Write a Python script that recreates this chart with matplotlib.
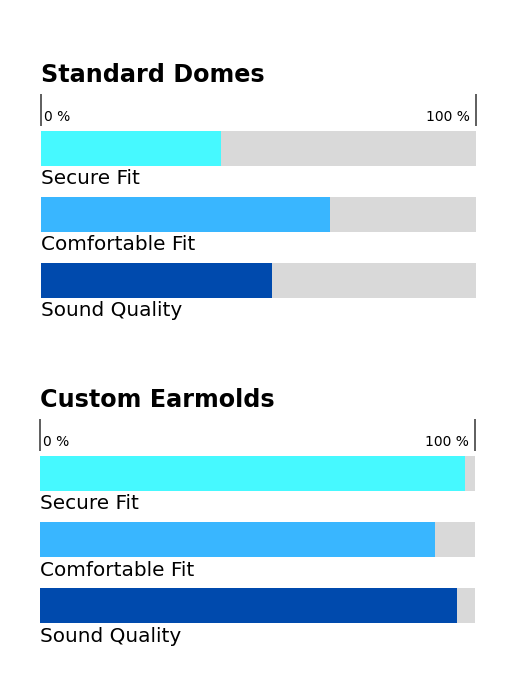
"""
Standard domes vs custom earmolds, progress bar style
"""

import matplotlib
matplotlib.use("Agg")
import matplotlib.pyplot as plt

# Datos
categories = ["Secure Fit", "Comfortable Fit", "Sound Quality"]
domes_values = [41.4, 66.4, 53.1]
earmolds_values = [97.7, 90.8, 95.9]
panel_titles = ["Standard Domes", "Custom Earmolds"]
tick_labels = ["0 %", "100 %"]

bar_colors = ["#46F9FF", "#39B6FF", "#004AAD"]
track_color = "#D9D9D9"

# Geometria en pixeles
W, H = 517, 690
ROW = 66.0   # separacion entre filas
BAR = 35.0   # alto de barra


def draw_panel(fig, x0, bar_top, title, values):
    """Dibuja un panel con titulo, escala y tres barras."""
    half = BAR / 2.0
    y_top = bar_top - 37           # arriba de la linea de escala
    y_bot = bar_top + 2 * ROW + BAR
    ax = fig.add_axes([x0 / W, 1 - y_bot / H, 435.0 / W, (y_bot - y_top) / H])
    ax.set_xlim(0, 100)
    ax.set_ylim(2 + half / ROW, -(37 + half) / ROW)
    ax.axis("off")

    rows = list(range(len(categories)))
    h = BAR / ROW
    ax.barh(rows, [100] * len(rows), height=h, color=track_color, linewidth=0)
    ax.barh(rows, values, height=h, color=bar_colors, linewidth=0)

    # escala 0 - 100
    t0 = -(37 + half) / ROW
    t1 = -(5 + half) / ROW
    ax.vlines([0, 100], t0, t1, color="#333333", linewidth=1.1,
              clip_on=False)
    yb = -(10 + half) / ROW
    ax.text(0.7, yb, tick_labels[0], fontsize=10, va="baseline", ha="left")
    ax.text(98.6, yb, tick_labels[1], fontsize=10, va="baseline", ha="right")

    # etiquetas de cada barra
    for i, cat in enumerate(categories):
        ax.text(0, i + (half + 18.5) / ROW, cat, fontsize=14.4,
                va="baseline", ha="left", clip_on=False)

    # titulo
    ax.text(0, -(49 + half) / ROW, title, fontsize=17.2,
            fontweight="bold", va="baseline", ha="left", clip_on=False)


fig = plt.figure(figsize=(W / 100.0, H / 100.0), dpi=100)
fig.patch.set_facecolor("white")

draw_panel(fig, 41, 131, panel_titles[0], domes_values)
draw_panel(fig, 40, 456, panel_titles[1], earmolds_values)

fig.savefig("out.png", dpi=100, facecolor="white")
